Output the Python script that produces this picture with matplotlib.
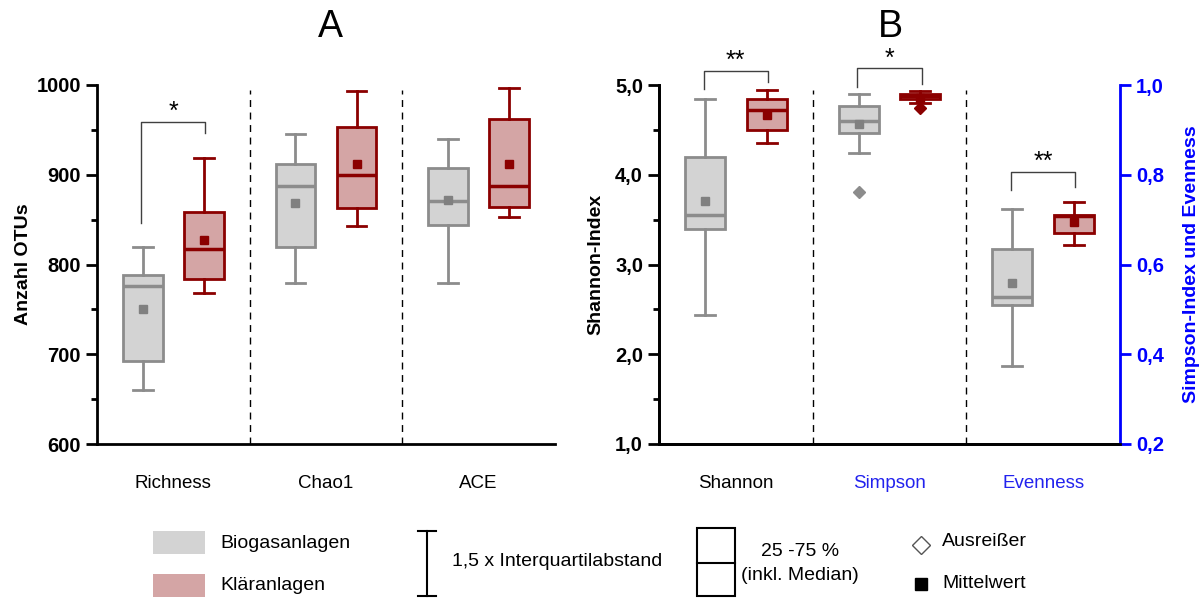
import numpy as np
import matplotlib
matplotlib.use("Agg")
import matplotlib.pyplot as plt
from matplotlib.patches import Rectangle

plt.rcParams['font.family'] = ['Liberation Sans', 'DejaVu Sans']

# ---- data --------------------------------------------------------------
# order of each stat list: whislo, q1, med, q3, whishi, mean
cats_a = ["Richness", "Chao1", "ACE"]
bio_a = [[660, 692, 776, 788, 820, 750],
         [779, 820, 887, 912, 945, 869],
         [779, 844, 871, 907, 940, 872]]
klar_a = [[768, 784, 817, 858, 919, 827],
          [843, 863, 900, 953, 993, 912],
          [853, 864, 888, 962, 997, 912]]

cats_b = ["Shannon", "Simpson", "Evenness"]
bio_b = [[2.44, 3.39, 3.55, 4.20, 4.84, 3.71],      # Shannon (left axis)
         [0.848, 0.892, 0.920, 0.954, 0.980, 0.912],  # Simpson (right axis)
         [0.374, 0.510, 0.528, 0.635, 0.723, 0.559]]  # Evenness (right axis)
klar_b = [[4.35, 4.50, 4.72, 4.84, 4.94, 4.67],
          [0.961, 0.968, 0.975, 0.981, 0.987, 0.972],
          [0.643, 0.671, 0.708, 0.710, 0.739, 0.694]]
bio_b_fliers = [[], [0.762], []]
klar_b_fliers = [[], [0.948], []]

# colours
GREY_FACE, GREY_EDGE, GREY_MEAN = "#d3d3d3", "#8c8c8c", "#808080"
RED_FACE, RED_EDGE = "#d4a5a5", "#8b0000"
BLUE = "#0000ff"
BR = "#404040"

OFF, W = 0.2, 0.26
TICK_FS, LAB_FS, CAT_FS, LEG_FS = 14.5, 14, 13.5, 14


def stats(v, fl=()):
    return dict(whislo=v[0], q1=v[1], med=v[2], q3=v[3], whishi=v[4],
                mean=v[5], fliers=list(fl))


def draw(ax, st, pos, face, edge, mean_col):
    ax.bxp([st], positions=[pos], widths=W, patch_artist=True,
           showmeans=True, showfliers=True,
           boxprops=dict(facecolor=face, edgecolor=edge, linewidth=2),
           medianprops=dict(color=edge, linewidth=2.5),
           whiskerprops=dict(color=edge, linewidth=2),
           capprops=dict(color=edge, linewidth=2),
           capwidths=W * 0.5,
           meanprops=dict(marker='s', markerfacecolor=mean_col,
                          markeredgecolor=mean_col, markersize=6),
           flierprops=dict(marker='D', markerfacecolor=edge,
                           markeredgecolor=edge, markersize=6))


def bracket(ax, x1, x2, y1, y2, ytop, ystar, txt):
    ax.plot([x1, x1, x2, x2], [y1, ytop, ytop, y2], color=BR, lw=1,
            clip_on=False)
    ax.text((x1 + x2) / 2, ystar, txt, ha='center', va='center',
            fontsize=18, clip_on=False)


fig = plt.figure(figsize=(12, 5.98), dpi=100)

# ---- panel A ----------------------------------------------------------
ax = fig.add_axes([97 / 1200, 1 - 444 / 598, 458 / 1200, 359 / 598])
for i in range(3):
    draw(ax, stats(bio_a[i]), i + 0.5 - OFF, GREY_FACE, GREY_EDGE, GREY_MEAN)
    draw(ax, stats(klar_a[i]), i + 0.5 + OFF, RED_FACE, RED_EDGE, RED_EDGE)
ax.set_xlim(0, 3)
ax.set_ylim(600, 1000)
ax.set_yticks([600, 700, 800, 900, 1000])
ax.set_yticks([650, 750, 850, 950], minor=True)
ax.tick_params(axis='y', which='major', length=8, width=2, labelsize=TICK_FS,
               direction='out')
ax.tick_params(axis='y', which='minor', length=4, width=2, direction='out')
for t in ax.get_yticklabels():
    t.set_fontweight('bold')
ax.set_xticks([0.5, 1.5, 2.5])
ax.set_xticklabels(cats_a, fontsize=CAT_FS)
ax.tick_params(axis='x', length=0, pad=22)
ax.set_ylabel("Anzahl OTUs", fontsize=LAB_FS, fontweight='bold', labelpad=3)
for s in ['top', 'right']:
    ax.spines[s].set_visible(False)
ax.spines['left'].set_linewidth(2)
ax.spines['bottom'].set_linewidth(2)
for x in [1, 2]:
    ax.axvline(x, ymax=0.985, color='k', ls=(0, (5, 4)), lw=1)
bracket(ax, 0.5 - OFF - 0.01, 0.5 + OFF + 0.01, 846, 947, 959, 970, "*")

# ---- panel B ----------------------------------------------------------
bx = fig.add_axes([659 / 1200, 1 - 444 / 598, 461 / 1200, 359 / 598])
rx = bx.twinx()
draw(bx, stats(bio_b[0], bio_b_fliers[0]), 0.5 - OFF, GREY_FACE, GREY_EDGE, GREY_MEAN)
draw(bx, stats(klar_b[0], klar_b_fliers[0]), 0.5 + OFF, RED_FACE, RED_EDGE, RED_EDGE)
for i in [1, 2]:
    draw(rx, stats(bio_b[i], bio_b_fliers[i]), i + 0.5 - OFF, GREY_FACE, GREY_EDGE, GREY_MEAN)
    draw(rx, stats(klar_b[i], klar_b_fliers[i]), i + 0.5 + OFF, RED_FACE, RED_EDGE, RED_EDGE)
bx.set_xlim(0, 3)
bx.set_ylim(1.0, 5.0)
rx.set_ylim(0.2, 1.0)
bx.set_yticks([1, 2, 3, 4, 5])
bx.set_yticklabels(["1,0", "2,0", "3,0", "4,0", "5,0"])
bx.set_yticks([1.5, 2.5, 3.5, 4.5], minor=True)
bx.tick_params(axis='y', which='major', length=8, width=2, labelsize=TICK_FS)
bx.tick_params(axis='y', which='minor', length=4, width=2)
for t in bx.get_yticklabels():
    t.set_fontweight('bold')
rx.set_yticks([0.2, 0.4, 0.6, 0.8, 1.0])
rx.set_yticklabels(["0,2", "0,4", "0,6", "0,8", "1,0"])
rx.tick_params(axis='y', length=8, width=2, labelsize=TICK_FS, colors=BLUE)
for t in rx.get_yticklabels():
    t.set_fontweight('bold')
bx.set_xticks([0.5, 1.5, 2.5])
bx.set_xticklabels(cats_b, fontsize=CAT_FS)
for t, c in zip(bx.get_xticklabels(), ['k', '#2222ee', '#2222ee']):
    t.set_color(c)
bx.tick_params(axis='x', length=0, pad=22)
bx.set_ylabel("Shannon-Index", fontsize=LAB_FS, fontweight='bold', labelpad=8)
rx.set_ylabel("Simpson-Index und Evenness", fontsize=LAB_FS, fontweight='bold',
              color=BLUE, labelpad=14)
for a in [bx, rx]:
    a.spines['top'].set_visible(False)
    a.spines['left'].set_linewidth(2)
    a.spines['bottom'].set_linewidth(2)
    a.spines['right'].set_linewidth(2)
rx.spines['right'].set_color(BLUE)
bx.spines['right'].set_visible(False)
for x in [1, 2]:
    bx.axvline(x, ymax=0.985, color='k', ls=(0, (5, 4)), lw=1)
bracket(bx, 0.5 - OFF - 0.01, 0.5 + OFF + 0.01, 4.96, 5.03, 5.16, 5.27, "**")
bracket(rx, 1.5 - OFF - 0.01, 1.5 + OFF + 0.01, 0.995, 1.002, 1.037, 1.058, "*")
bracket(rx, 2.5 - OFF - 0.01, 2.5 + OFF + 0.01, 0.766, 0.772, 0.807, 0.828, "**")

# ---- titles -----------------------------------------------------------
fig.text(330 / 1200, 1 - 27 / 598, "A", fontsize=27, ha='center', va='center')
fig.text(890 / 1200, 1 - 27 / 598, "B", fontsize=27, ha='center', va='center')

# ---- legend (pixel overlay) ------------------------------------------
lg = fig.add_axes([0, 0, 1, 1], facecolor='none')
lg.set_xlim(0, 1200)
lg.set_ylim(598, 0)
lg.axis('off')
lg.add_patch(Rectangle((153, 531), 52, 23, facecolor=GREY_FACE, edgecolor='none'))
lg.add_patch(Rectangle((153, 574), 52, 23, facecolor=RED_FACE, edgecolor='none'))
lg.text(220, 543, "Biogasanlagen", fontsize=LEG_FS, va='center')
lg.text(220, 586, "Kläranlagen", fontsize=LEG_FS, va='center')
lg.plot([427, 427], [531, 596], color='k', lw=1.5)
lg.plot([418, 436], [531, 531], color='k', lw=1.5)
lg.plot([418, 436], [596, 596], color='k', lw=1.5)
lg.text(452, 562, "1,5 x Interquartilabstand", fontsize=LEG_FS, va='center')
lg.add_patch(Rectangle((697, 528), 38, 68, facecolor='none', edgecolor='k', lw=1.5))
lg.plot([697, 735], [563, 563], color='k', lw=1.5)
lg.text(800, 551, "25 -75 %", fontsize=LEG_FS, ha='center', va='center')
lg.text(800, 575, "(inkl. Median)", fontsize=LEG_FS, ha='center', va='center')
lg.plot([921], [545], marker='D', markersize=9, markerfacecolor='white',
        markeredgecolor='#555555', markeredgewidth=1)
lg.text(942, 542, "Ausreißer", fontsize=LEG_FS, va='center')
lg.plot([921], [584], marker='s', markersize=8, color='k')
lg.text(942, 583, "Mittelwert", fontsize=LEG_FS, va='center')

fig.savefig("out.png", dpi=100)
